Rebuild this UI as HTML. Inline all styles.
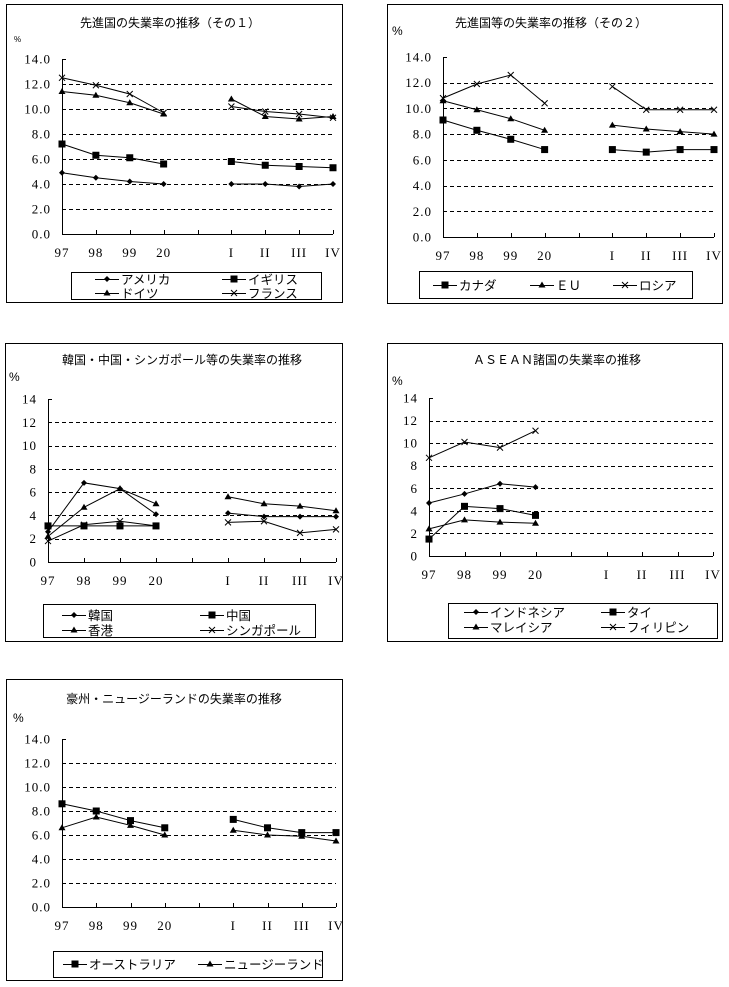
<!DOCTYPE html>
<html><head><meta charset="utf-8">
<style>
html,body{margin:0;padding:0;background:#fff;}
svg{display:block;}
text{font-family:"Liberation Serif","Noto Serif CJK SC",serif;fill:#000;}
.jp{font-family:"Liberation Sans","Noto Sans CJK JP",sans-serif;}
.tk{letter-spacing:1px;}
</style></head>
<body>
<svg id="root" width="729" height="987" viewBox="0 0 729 987" xmlns="http://www.w3.org/2000/svg"></svg>
<script>
const categories = ["97","98","99","20","","I","II","III","IV"];
// panel 1
const p1_usa = [4.9,4.5,4.2,4.0,null,4.0,4.0,3.8,4.0];
const p1_uk = [7.2,6.3,6.1,5.6,null,5.8,5.5,5.4,5.3];
const p1_ger = [11.4,11.1,10.5,9.6,null,10.8,9.4,9.2,9.4];
const p1_fra = [12.5,11.9,11.2,9.7,null,10.2,9.8,9.6,9.3];
// panel 2
const p2_can = [9.1,8.3,7.6,6.8,null,6.8,6.6,6.8,6.8];
const p2_eu = [10.6,9.9,9.2,8.3,null,8.7,8.4,8.2,8.0];
const p2_rus = [10.8,11.9,12.6,10.4,null,11.7,9.9,9.9,9.9];
// panel 3
const p3_kor = [2.6,6.8,6.3,4.1,null,4.2,3.9,3.9,3.9];
const p3_chn = [3.1,3.1,3.1,3.1,null,null,null,null,null];
const p3_hk = [2.2,4.7,6.3,5.0,null,5.6,5.0,4.8,4.4];
const p3_sgp = [1.8,3.2,3.5,3.1,null,3.4,3.5,2.5,2.8];
// panel 4
const p4_idn = [4.7,5.5,6.4,6.1,null,null,null,null,null];
const p4_tha = [1.5,4.4,4.2,3.6,null,null,null,null,null];
const p4_mys = [2.4,3.2,3.0,2.9,null,null,null,null,null];
const p4_phl = [8.7,10.1,9.6,11.1,null,null,null,null,null];
// panel 5
const p5_aus = [8.6,8.0,7.2,6.6,null,7.3,6.6,6.2,6.2];
const p5_nzl = [6.6,7.5,6.8,6.0,null,6.4,6.0,5.9,5.5];
const yTicks = [0,2,4,6,8,10,12,14];

const NS="http://www.w3.org/2000/svg";
const root=document.getElementById('root');
function mk(tag,attrs,parent){const e=document.createElementNS(NS,tag);for(const k in attrs)e.setAttribute(k,attrs[k]);(parent||root).appendChild(e);return e;}

function marker(g,type,x,y){
  let m;
  if(type==='diamond'){m=mk('polygon',{points:`${x},${y-3} ${x+3},${y} ${x},${y+3} ${x-3},${y}`,fill:'#000'},g);}
  else if(type==='square'){m=mk('rect',{x:x-3.5,y:y-3.5,width:7,height:7,fill:'#000'},g);}
  else if(type==='triangle'){m=mk('polygon',{points:`${x},${y-3.5} ${x+3.5},${y+2.5} ${x-3.5},${y+2.5}`,fill:'#000'},g);}
  else {m=mk('path',{d:`M${x-3},${y-3}L${x+3},${y+3}M${x-3},${y+3}L${x+3},${y-3}`,stroke:'#000','stroke-width':1},g);}
  return m;
}

function panel(cfg){
  const g=mk('g',{});
  
  
  const b=mk('rect',{x:cfg.box[0]+0.5,y:cfg.box[1]+0.5,width:cfg.box[2]-cfg.box[0],height:cfg.box[3]-cfg.box[1],fill:'#fff',stroke:'#000','stroke-width':1},g);
  
  
  const t=mk('text',{x:cfg.titleX,y:cfg.titleY,'text-anchor':'middle','font-size':12,class:'jp'},g);
  t.textContent=cfg.title;
  
  
  const u=mk('text',{x:cfg.unit[0],y:cfg.unit[1],'font-size':cfg.unit[2]||12,class:'jp'},g);
  u.textContent='%';
  
  
  const [x0,x1,y0,y14]=cfg.plot;
  const X=i=>x0+(x1-x0)*i/(categories.length-1);
  const Y=v=>y0-(y0-y14)*v/14;
  yTicks.forEach(v=>{
    const yy=Math.round(Y(v))+0.5;
    if(v>0&&v<14){const gl=mk('line',{x1:x0,x2:x1,y1:yy,y2:yy,stroke:'#000','stroke-dasharray':'4,3','stroke-width':1},g);
      }
    mk('line',{x1:x0,x2:x0+4,y1:yy,y2:yy,stroke:'#000'},g);
    const tl=mk('text',{x:x0-11,y:Y(v)+4.5,'text-anchor':'end','font-size':13,class:'tk'},g);
    tl.textContent=cfg.dec?v.toFixed(1):String(v);
    
    
  });
  mk('line',{x1:x0+0.5,x2:x0+0.5,y1:y14,y2:y0,stroke:'#000'},g);
  mk('line',{x1:x0,x2:x1,y1:Math.round(y0)+0.5,y2:Math.round(y0)+0.5,stroke:'#000'},g);
  categories.forEach((c,i)=>{
    const xx=Math.round(X(i))+0.5;
    mk('line',{x1:xx,x2:xx,y1:y0-4,y2:y0,stroke:'#000'},g);
    if(c){const xl=mk('text',{x:X(i),y:y0+23,'text-anchor':'middle','font-size':13,class:'tk'},g);
      xl.textContent=c;
      
      }
  });
  cfg.series.forEach(s=>{
    const sg=mk('g',{},g);
    
    
    let seg=[];
    const flush=()=>{if(seg.length>1){mk('polyline',{points:seg.join(' '),fill:'none',stroke:'#000','stroke-width':1},sg);}seg=[];};
    s.data.forEach((v,i)=>{if(v==null){flush();}else seg.push(X(i)+','+Y(v));});
    flush();
    s.data.forEach((v,i)=>{if(v!=null){const m=marker(sg,s.m,X(i),Y(v));
      
      }});
  });
  const L=cfg.legend;
  const lg=mk('g',{},g);
  
  
  mk('rect',{x:L.box[0]+0.5,y:L.box[1]+0.5,width:L.box[2]-L.box[0],height:L.box[3]-L.box[1],fill:'#fff',stroke:'#000'},lg);
  cfg.series.forEach((s,i)=>{
    const [lx,ly]=L.pos[i];
    const eg=mk('g',{},lg);
    
    
    mk('line',{x1:lx,x2:lx+24,y1:ly+0.5,y2:ly+0.5,stroke:'#000'},eg);
    marker(eg,s.m,lx+12,ly);
    const tx=mk('text',{x:lx+26,y:ly+5,'font-size':12.5,class:'jp'},eg);
    tx.textContent=s.label;
  });
}

panel({name:'chart-advanced-1',box:[6,4,342,302],title:'先進国の失業率の推移（その１）',titleX:170,titleY:27,unit:[14,42,8],
  plot:[62,333,234,59],dec:true,
  series:[{key:'usa',label:'アメリカ',m:'diamond',data:p1_usa},{key:'uk',label:'イギリス',m:'square',data:p1_uk},
          {key:'germany',label:'ドイツ',m:'triangle',data:p1_ger},{key:'france',label:'フランス',m:'cross',data:p1_fra}],
  legend:{box:[71,272,321,299],pos:[[95,279],[222,279],[95,293],[222,293]]}});

panel({name:'chart-advanced-2',box:[387,4,722,303],title:'先進国等の失業率の推移（その２）',titleX:551,titleY:27,unit:[392,35,12],
  plot:[443,714,237,57],dec:true,
  series:[{key:'canada',label:'カナダ',m:'square',data:p2_can},{key:'eu',label:'ＥＵ',m:'triangle',data:p2_eu},
          {key:'russia',label:'ロシア',m:'cross',data:p2_rus}],
  legend:{box:[419,271,692,298],pos:[[433,285],[530,285],[613,285]]}});

panel({name:'chart-east-asia',box:[5,343,342,641],title:'韓国・中国・シンガポール等の失業率の推移',titleX:182,titleY:364,unit:[9,381,12],
  plot:[48,336,562,399],dec:false,
  series:[{key:'korea',label:'韓国',m:'diamond',data:p3_kor},{key:'china',label:'中国',m:'square',data:p3_chn},
          {key:'hongkong',label:'香港',m:'triangle',data:p3_hk},{key:'singapore',label:'シンガポール',m:'cross',data:p3_sgp}],
  legend:{box:[43,604,315,637],pos:[[62,615],[200,615],[62,630],[200,630]]}});

panel({name:'chart-asean',box:[387,343,722,641],title:'ＡＳＥＡＮ諸国の失業率の推移',titleX:557,titleY:364,unit:[392,385,12],
  plot:[429,713,556,398],dec:false,
  series:[{key:'indonesia',label:'インドネシア',m:'diamond',data:p4_idn},{key:'thailand',label:'タイ',m:'square',data:p4_tha},
          {key:'malaysia',label:'マレイシア',m:'triangle',data:p4_mys},{key:'philippines',label:'フィリピン',m:'cross',data:p4_phl}],
  legend:{box:[448,603,717,638],pos:[[464,612],[601,612],[464,627],[601,627]]}});

panel({name:'chart-oceania',box:[6,679,342,980],title:'豪州・ニュージーランドの失業率の推移',titleX:174,titleY:703,unit:[13,722,12],
  plot:[62,336,907,739],dec:true,
  series:[{key:'australia',label:'オーストラリア',m:'square',data:p5_aus},{key:'newzealand',label:'ニュージーランド',m:'triangle',data:p5_nzl}],
  legend:{box:[53,951,322,977],pos:[[63,964],[198,964]]}});
</script>
</body></html>
